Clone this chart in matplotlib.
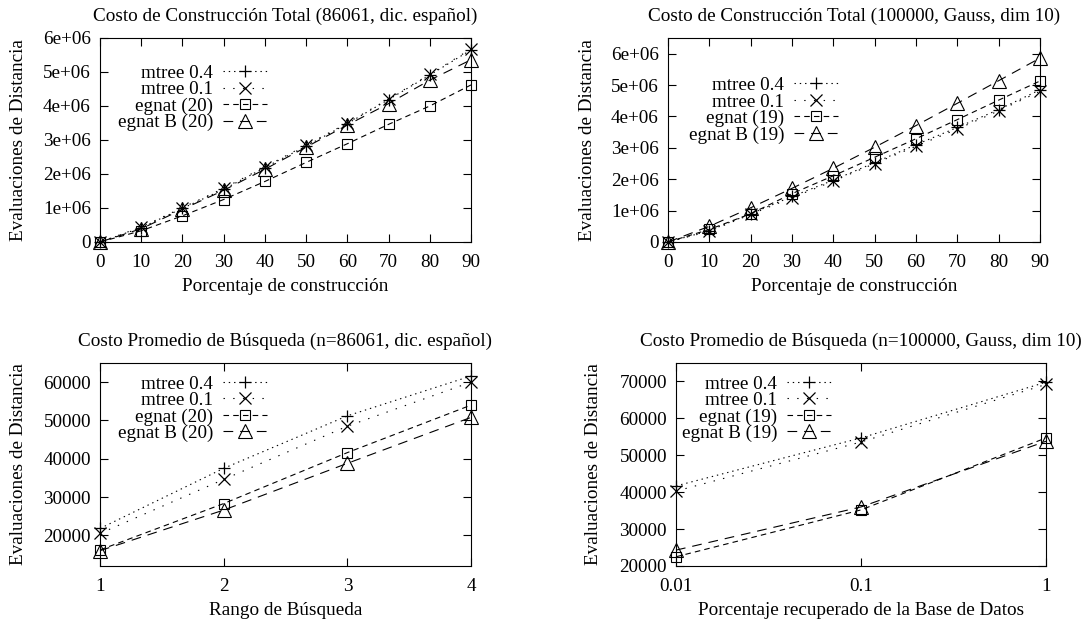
import matplotlib
matplotlib.use("Agg")
import matplotlib.pyplot as plt
from matplotlib.ticker import FuncFormatter, FixedLocator, NullLocator

plt.rcParams['font.family'] = ['Liberation Serif', 'DejaVu Serif']
plt.rcParams['font.size'] = 13.8
plt.rcParams['axes.titlesize'] = 13.8
plt.rcParams['lines.scale_dashes'] = False
plt.rcParams['axes.linewidth'] = 0.8

# ---- data ----
build_pct = [0, 10, 20, 30, 40, 50, 60, 70, 80, 90]

# Spanish dictionary, total construction cost (millions of distance evaluations)
dic_mtree04 = [0.0, 0.42, 0.99, 1.55, 2.19, 2.82, 3.48, 4.19, 4.91, 5.65]
dic_mtree01 = [0.0, 0.44, 1.01, 1.58, 2.21, 2.85, 3.50, 4.21, 4.93, 5.68]
dic_egnat = [0.0, 0.33, 0.77, 1.25, 1.78, 2.34, 2.89, 3.46, 4.00, 4.62]
dic_egnatB = [0.0, 0.39, 0.96, 1.52, 2.14, 2.79, 3.44, 4.07, 4.76, 5.36]

# Gaussian vectors, total construction cost (millions)
gau_mtree04 = [0.0, 0.36, 0.90, 1.45, 1.97, 2.53, 3.10, 3.65, 4.22, 4.85]
gau_mtree01 = [0.0, 0.34, 0.88, 1.41, 1.94, 2.50, 3.05, 3.60, 4.18, 4.80]
gau_egnat = [0.0, 0.40, 0.90, 1.54, 2.11, 2.70, 3.29, 3.90, 4.52, 5.13]
gau_egnatB = [0.0, 0.50, 1.09, 1.71, 2.35, 3.02, 3.71, 4.42, 5.14, 5.86]

# Spanish dictionary, average search cost
search_range = [1, 2, 3, 4]
srch_dic_mtree04 = [21800, 37500, 51200, 61600]
srch_dic_mtree01 = [20500, 34600, 48500, 60000]
srch_dic_egnat = [16200, 28300, 41600, 54000]
srch_dic_egnatB = [16000, 26600, 38800, 50800]

# Gaussian vectors, average search cost
retrieved_frac = [0.01, 0.1, 1]
srch_gau_mtree04 = [41700, 54700, 69800]
srch_gau_mtree01 = [40300, 53600, 69200]
srch_gau_egnat = [22500, 35200, 54700]
srch_gau_egnatB = [24300, 36000, 53800]

ylabel_text = "Evaluaciones de Distancia"

# ---- styles (gnuplot-like, monochrome) ----
styles = {
    'mtree04': dict(color='black', lw=0.8, ls=(0, (1.0, 2.8)), marker='+', ms=9, mew=0.9, mfc='none'),
    'mtree01': dict(color='black', lw=0.8, ls=(0, (1.0, 6.0)), marker='x', ms=8, mew=0.9, mfc='none'),
    'egnat': dict(color='black', lw=0.8, ls=(0, (4.0, 3.0)), marker='s', ms=7.5, mew=0.8, mfc='none'),
    'egnatB': dict(color='black', lw=0.8, ls=(0, (7.0, 5.0)), marker='^', ms=9.5, mew=0.8, mfc='none'),
}

fig = plt.figure(figsize=(10.86, 6.22), dpi=100)

W, H = 1086.0, 622.0


def make_axes(l, r, t, b):
    return fig.add_axes([l / W, 1 - b / H, (r - l) / W, (b - t) / H])


def style_axes(ax):
    ax.tick_params(direction='in', top=True, right=True, length=6, width=0.8)
    ax.tick_params(axis='x', pad=8.5)
    ax.tick_params(axis='y', pad=6.5)
    ax.tick_params(which='minor', length=0)


def draw(ax, x, series, labels, legend_anchor):
    for key, y, lab in zip(['mtree04', 'mtree01', 'egnat', 'egnatB'], series, labels):
        ax.plot(x, y, label=lab, clip_on=False, **styles[key])
    leg = ax.legend(loc='upper right', bbox_to_anchor=legend_anchor, frameon=False,
                    markerfirst=False, handlelength=2.3, handletextpad=0.5,
                    labelspacing=-0.05, borderpad=0, borderaxespad=0, numpoints=1)
    return leg


mil = FuncFormatter(lambda v, _: '0' if v == 0 else f'{v:.0f}e+06')

# top-left
ax1 = make_axes(100, 471, 38, 242)
draw(ax1, build_pct, [dic_mtree04, dic_mtree01, dic_egnat, dic_egnatB],
     ['mtree 0.4', 'mtree 0.1', 'egnat (20)', 'egnat B (20)'], (0.45, 0.87))
ax1.set_xlim(0, 90)
ax1.set_ylim(0, 6)
ax1.set_xticks(build_pct)
ax1.set_yticks([0, 1, 2, 3, 4, 5, 6])
ax1.yaxis.set_major_formatter(mil)
ax1.set_title("Costo de Construcción Total (86061, dic. español)", pad=12)
ax1.set_xlabel("Porcentaje de construcción", labelpad=5)
ax1.set_ylabel(ylabel_text)
ax1.yaxis.set_label_coords(-73 / 371, 0.5)
style_axes(ax1)

# top-right
ax2 = make_axes(668, 1040, 38, 242)
draw(ax2, build_pct, [gau_mtree04, gau_mtree01, gau_egnat, gau_egnatB],
     ['mtree 0.4', 'mtree 0.1', 'egnat (19)', 'egnat B (19)'], (0.457, 0.81))
ax2.set_xlim(0, 90)
ax2.set_ylim(0, 6.5)
ax2.set_xticks(build_pct)
ax2.set_yticks([0, 1, 2, 3, 4, 5, 6])
ax2.yaxis.set_major_formatter(mil)
ax2.set_title("Costo de Construcción Total (100000, Gauss, dim 10)", pad=12)
ax2.set_xlabel("Porcentaje de construcción", labelpad=5)
ax2.set_ylabel(ylabel_text)
ax2.yaxis.set_label_coords(-72 / 372, 0.5)
style_axes(ax2)

# bottom-left
ax3 = make_axes(100, 471, 363, 566)
draw(ax3, search_range, [srch_dic_mtree04, srch_dic_mtree01, srch_dic_egnat, srch_dic_egnatB],
     ['mtree 0.4', 'mtree 0.1', 'egnat (20)', 'egnat B (20)'], (0.45, 0.94))
ax3.set_xlim(1, 4)
ax3.set_ylim(12000, 65000)
ax3.set_xticks(search_range)
ax3.set_yticks([20000, 30000, 40000, 50000, 60000])
ax3.set_title("Costo Promedio de Búsqueda (n=86061, dic. español)", pad=12)
ax3.set_xlabel("Rango de Búsqueda", labelpad=5)
ax3.set_ylabel(ylabel_text)
ax3.yaxis.set_label_coords(-73 / 371, 0.5)
style_axes(ax3)

# bottom-right
ax4 = make_axes(676, 1046, 363, 566)
draw(ax4, retrieved_frac, [srch_gau_mtree04, srch_gau_mtree01, srch_gau_egnat, srch_gau_egnatB],
     ['mtree 0.4', 'mtree 0.1', 'egnat (19)', 'egnat B (19)'], (0.419, 0.94))
ax4.set_xscale('log')
ax4.set_xlim(0.01, 1)
ax4.set_ylim(20000, 75000)
ax4.xaxis.set_major_locator(FixedLocator(retrieved_frac))
ax4.xaxis.set_minor_locator(NullLocator())
ax4.xaxis.set_major_formatter(FuncFormatter(lambda v, _: f'{v:g}'))
ax4.set_yticks([20000, 30000, 40000, 50000, 60000, 70000])
ax4.set_title("Costo Promedio de Búsqueda (n=100000, Gauss, dim 10)", pad=12)
ax4.set_xlabel("Porcentaje recuperado de la Base de Datos", labelpad=5)
ax4.set_ylabel(ylabel_text)
ax4.yaxis.set_label_coords(-74 / 370, 0.5)
style_axes(ax4)

fig.savefig("out.png", dpi=100)
